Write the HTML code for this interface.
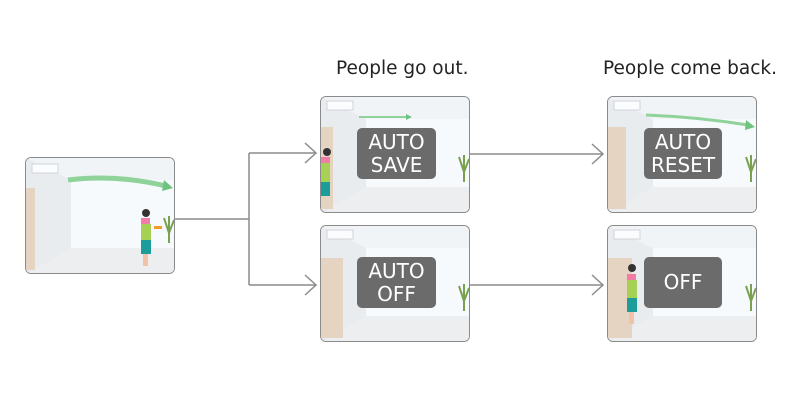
<!DOCTYPE html>
<html><head><meta charset="utf-8"><style>
body{margin:0;width:800px;height:400px;background:#fff;position:relative;overflow:hidden;font-family:"DejaVu Sans","Liberation Sans",sans-serif}
.p{position:absolute;width:150px;height:117px;border:1.5px solid #8a8a8a;border-radius:6px;overflow:hidden;box-sizing:border-box;background:#eef1f3}
.p svg{position:absolute;left:0;top:0}
.lb{position:absolute;background:#6b6b6b;color:#fff;border-radius:5px;text-align:center;font-size:20px;line-height:23px;display:flex;align-items:center;justify-content:center}
.t{position:absolute;font-size:18.5px;color:#222;white-space:nowrap}
</style></head><body>
<svg width="800" height="400" style="position:absolute;left:0;top:0" fill="none" stroke="#8c8c8c" stroke-width="1.5">
<path d="M175 219H249M249 153V285M249 153H315M249 285H315M470 154H602M470 285H602"/>
<path d="M305 143L316 153L305 163M305 275L316 285L305 295M592 144L603 154L592 164M592 275L603 285L592 295"/>
</svg>
<div class="t" style="left:336px;top:58px">People go out.</div>
<div class="t" style="left:603px;top:58px">People come back.</div>

<div class="p" style="left:25px;top:157px"><svg width="150" height="117">
<rect width="150" height="117" fill="#f1f4f6"/><polygon points="0,0 45,22 45,90 0,117" fill="#e9ecef"/><rect x="45" y="22" width="105" height="68" fill="#f7fafc"/><polygon points="45,90 150,90 150,117 0,117" fill="#eceef0"/>
<rect x="0" y="30" width="9" height="82" fill="#e6d4c2"/><rect x="6" y="6" width="26" height="9" fill="#fbfcfd" stroke="#d0d5da"/>
<path d="M42 22Q90 16 140 28" stroke="#8fd39a" stroke-width="5" fill="none"/><polygon points="138,22 147,30 136,33" fill="#6ec47f"/>
<circle cx="120" cy="55" r="4" fill="#333"/><rect x="115" y="60" width="9" height="20" fill="#f27ca5"/><rect x="115" y="66" width="10" height="20" fill="#a6d154"/><rect x="115" y="82" width="10" height="14" fill="#1c9c9b"/><rect x="117" y="96" width="5" height="12" fill="#f3c1a8"/><rect x="128" y="68" width="8" height="3" fill="#f59a25"/>
<path d="M143 85V58M143 75L138 60M143 75L148 62" stroke="#7aa052" stroke-width="2"/></svg></div>

<div class="p" style="left:320px;top:96px"><svg width="150" height="117">
<rect width="150" height="117" fill="#f1f4f6"/><polygon points="0,0 45,22 45,90 0,117" fill="#e9ecef"/><rect x="45" y="22" width="105" height="68" fill="#f7fafc"/><polygon points="45,90 150,90 150,117 0,117" fill="#eceef0"/>
<rect x="0" y="30" width="12" height="82" fill="#e6d4c2"/><rect x="6" y="4" width="26" height="9" fill="#fbfcfd" stroke="#d0d5da"/>
<path d="M38 20H85" stroke="#8fd39a" stroke-width="2"/><polygon points="85,17 91,20 85,23" fill="#6ec47f"/>
<circle cx="6" cy="55" r="4" fill="#333"/><rect x="0" y="60" width="9" height="20" fill="#f27ca5"/><rect x="0" y="66" width="9" height="24" fill="#a6d154"/><rect x="0" y="85" width="9" height="14" fill="#1c9c9b"/>
<path d="M143 85V58M143 75L138 60M143 75L148 62" stroke="#7aa052" stroke-width="2"/></svg>
<div class="lb" style="left:36px;top:31px;width:79px;height:51px">AUTO<br>SAVE</div></div>

<div class="p" style="left:320px;top:225px"><svg width="150" height="117">
<rect width="150" height="117" fill="#f1f4f6"/><polygon points="0,0 45,22 45,90 0,117" fill="#e9ecef"/><rect x="45" y="22" width="105" height="68" fill="#f7fafc"/><polygon points="45,90 150,90 150,117 0,117" fill="#eceef0"/>
<rect x="0" y="32" width="22" height="80" fill="#e6d4c2"/><rect x="6" y="4" width="26" height="9" fill="#fbfcfd" stroke="#d0d5da"/>
<path d="M143 85V58M143 75L138 60M143 75L148 62" stroke="#7aa052" stroke-width="2"/></svg>
<div class="lb" style="left:36px;top:31px;width:79px;height:51px">AUTO<br>OFF</div></div>

<div class="p" style="left:607px;top:96px"><svg width="150" height="117">
<rect width="150" height="117" fill="#f1f4f6"/><polygon points="0,0 45,22 45,90 0,117" fill="#e9ecef"/><rect x="45" y="22" width="105" height="68" fill="#f7fafc"/><polygon points="45,90 150,90 150,117 0,117" fill="#eceef0"/>
<rect x="0" y="30" width="18" height="82" fill="#e6d4c2"/><rect x="6" y="4" width="26" height="9" fill="#fbfcfd" stroke="#d0d5da"/>
<path d="M38 18Q90 20 140 28" stroke="#8fd39a" stroke-width="3" fill="none"/><polygon points="138,23 147,30 137,33" fill="#6ec47f"/>
<path d="M143 85V58M143 75L138 60M143 75L148 62" stroke="#7aa052" stroke-width="2"/></svg>
<div class="lb" style="left:36px;top:31px;width:78px;height:51px">AUTO<br>RESET</div></div>

<div class="p" style="left:607px;top:225px"><svg width="150" height="117">
<rect width="150" height="117" fill="#f1f4f6"/><polygon points="0,0 45,22 45,90 0,117" fill="#e9ecef"/><rect x="45" y="22" width="105" height="68" fill="#f7fafc"/><polygon points="45,90 150,90 150,117 0,117" fill="#eceef0"/>
<rect x="0" y="32" width="24" height="80" fill="#e6d4c2"/><rect x="6" y="4" width="26" height="9" fill="#fbfcfd" stroke="#d0d5da"/>
<circle cx="24" cy="42" r="4" fill="#333"/><rect x="19" y="48" width="9" height="20" fill="#f27ca5"/><rect x="19" y="54" width="10" height="20" fill="#a6d154"/><rect x="19" y="72" width="10" height="14" fill="#1c9c9b"/><rect x="21" y="86" width="5" height="12" fill="#f3c1a8"/>
<path d="M143 85V58M143 75L138 60M143 75L148 62" stroke="#7aa052" stroke-width="2"/></svg>
<div class="lb" style="left:36px;top:31px;width:78px;height:51px">OFF</div></div>
</body></html>
